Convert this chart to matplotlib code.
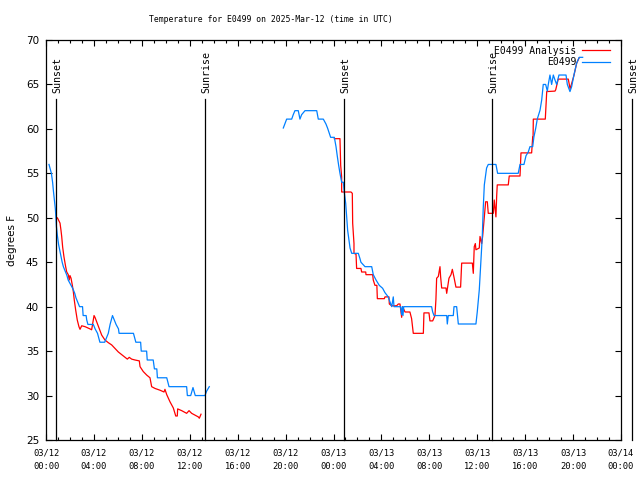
import numpy as np
import matplotlib
matplotlib.use("Agg")
import matplotlib.pyplot as plt

nan = float("nan")

# hours since 03/12 00:00 UTC
analysis_hours = [0.89, 0.95, 1.17, 1.25, 1.31, 1.39, 1.50, 1.64, 1.73, 1.86, 1.94, 2.00, 2.09, 2.20, 2.28,
                  2.36, 2.48, 2.61, 2.75, 2.84, 2.98, 3.26, 3.67, 3.81, 3.90, 4.01, 4.09, 4.23, 4.42, 4.65,
                  4.92, 5.20, 5.48, 5.76, 6.04, 6.32, 6.59, 6.79, 6.95, 7.15, 7.43, 7.79, 7.85, 8.12, 8.41,
                  8.68, 8.82, 9.10, 9.52, 9.85, 9.93, 10.08, 10.35, 10.63, 10.83, 10.96, 10.99, 11.33, 11.74,
                  11.94, 12.16, 12.44, 12.71, 12.80, 12.94,
                  nan,
                  24.07, 24.54, 24.60, 24.68, 24.68, 25.46, 25.57, 25.60, 25.71, 25.71, 25.88, 25.93, 26.29,
                  26.35, 26.69, 26.71, 27.27, 27.32, 27.46, 27.62, 27.66, 28.24, 28.30, 28.63, 28.66, 28.86,
                  29.27, 29.41, 29.55, 29.69, 29.77, 29.97, 30.38, 30.52, 30.58, 30.66, 31.50, 31.55, 31.97,
                  32.05, 32.28, 32.47, 32.55, 32.61, 32.75, 32.89, 32.94, 33.03, 33.39, 33.45, 33.64, 33.81,
                  33.92, 34.06, 34.22, 34.61, 34.70, 35.59, 35.67, 35.75, 35.84, 35.89, 36.17, 36.23, 36.37,
                  36.45, 36.59, 36.70, 36.84, 36.92, 37.34, 37.42, 37.56, 37.62, 37.67, 38.59, 38.67, 39.57,
                  39.65, 40.54, 40.63, 40.66, 40.68, 41.68, 41.80, 42.49, 42.55, 42.76, 43.60, 43.75, 44.07,
                  44.30, 44.51]
analysis_temps = [50.0, 50.0, 49.4, 48.6, 47.9, 46.7, 45.6, 44.5, 43.9, 43.6, 43.0, 43.5, 43.2, 42.4, 41.7,
                  40.75, 39.6, 38.5, 37.75, 37.45, 37.85, 37.75, 37.5, 37.4, 38.1, 39.0, 38.8, 38.3, 37.6, 36.8,
                  36.25, 35.95, 35.7, 35.3, 34.9, 34.6, 34.3, 34.1, 34.3, 34.1, 34.0, 33.9, 33.25, 32.7, 32.3,
                  32.0, 31.0, 30.8, 30.6, 30.4, 30.7, 30.1, 29.3, 28.6, 27.7, 27.7, 28.5, 28.3, 28.0,
                  28.3, 28.0, 27.8, 27.6, 27.45, 27.9,
                  nan,
                  58.9, 58.9, 55.9, 54.6, 52.9, 52.9, 52.75, 49.4, 47.1, 46.0, 45.9, 44.3, 44.3,
                  43.9, 43.9, 43.6, 43.6, 43.0, 42.4, 42.4, 40.9, 40.9, 41.1, 41.1, 40.3, 40.1,
                  40.1, 40.3, 40.3, 38.8, 40.0, 39.4, 39.4, 38.65, 37.9, 37.0, 37.0, 39.3, 39.3,
                  38.4, 38.4, 39.0, 40.8, 43.2, 43.4, 44.5, 43.4, 42.1, 42.1, 41.5, 43.2, 43.6,
                  44.2, 43.3, 42.2, 42.2, 44.9, 44.9, 43.75, 46.75, 47.1, 46.4, 46.6, 47.9, 47.1,
                  47.9, 50.1, 51.8, 51.8, 50.5, 50.5, 52.0, 50.1, 52.4, 53.7, 53.7, 54.7, 54.7,
                  57.3, 57.3, 59.1, 59.1, 61.1, 61.1, 64.2, 64.25, 64.4, 65.6, 65.6, 64.5, 66.0,
                  67.4, 68.0]

obs_hours = [0.25, 0.35, 0.45, 0.55, 0.62, 0.70, 0.78, 0.83, 0.87, 0.95, 1.05, 1.20, 1.35, 1.45, 1.60,
             1.75, 1.85, 2.05, 2.25, 2.40, 2.50, 2.65, 2.80, 3.05, 3.10, 3.35, 3.40, 3.50, 3.95, 4.10,
             4.30, 4.50, 4.90, 5.20, 5.35, 5.55, 5.70, 5.85, 6.05, 6.10, 7.30, 7.50, 7.90, 7.95, 8.40,
             8.45, 8.95, 9.05, 9.25, 9.30, 10.08, 10.27, 11.74, 11.80, 12.08, 12.27, 12.46, 13.27, 13.41,
             13.63,
             nan,
             19.81, 19.95, 20.09, 20.51, 20.64, 20.78, 21.06, 21.20, 21.34, 21.62, 22.60, 22.73, 23.15,
             23.37, 23.51, 23.65, 23.76, 24.07, 24.21, 24.32, 24.43, 24.54, 24.68, 24.82, 24.90, 25.02,
             25.10, 25.18, 25.29, 25.38, 25.52, 26.07, 26.21, 26.29, 26.63, 27.19, 27.32, 27.55, 27.82,
             28.10, 28.30, 28.57, 28.71, 28.86, 28.99, 29.05, 29.60, 29.69, 29.75, 29.80, 29.86, 32.19,
             32.28, 32.39, 33.45, 33.50, 33.58, 34.00, 34.06, 34.28, 34.42, 35.89, 36.00, 36.17, 36.28,
             36.42, 36.50, 36.59, 36.78, 36.92, 37.56, 37.70, 39.42, 39.57, 39.90, 40.07, 40.26, 40.40,
             40.63, 40.73, 40.88, 41.01, 41.24, 41.38, 41.51, 41.71, 41.85, 41.93, 42.07, 42.21, 42.35,
             42.49, 42.63, 42.82, 43.41, 43.52, 43.74, 43.88, 44.07, 44.30, 44.51, 44.80]
obs_temps = [56, 55.5, 55, 54, 53, 52, 51, 50, 49, 48, 47, 46, 45, 44.5, 44,
             43.5, 43, 42.5, 42, 41.5, 41, 40.5, 40, 40, 39, 39, 38.5, 38, 38, 37.5,
             37, 36, 36, 37, 38, 39, 38.5, 38, 37.5, 37, 37, 36, 36, 35, 35,
             34, 34, 33, 33, 32, 32, 31, 31, 30, 30, 30.9, 30, 30, 30.5,
             31,
             nan,
             60.1, 60.6, 61.1, 61.1, 61.6, 62.05, 62.05, 61.1, 61.6, 62.05, 62.05, 61.1, 61.1,
             60.55, 60.07, 59.5, 59.05, 59.05, 58.0, 56.9, 55.9, 55.0, 54.0, 54.0, 52.9, 51.6,
             50.1, 48.6, 47.5, 46.6, 46.0, 46.0, 45.4, 45.0, 44.5, 44.5, 43.6, 43.0, 42.4,
             42.07, 41.57, 41.1, 40.55, 40.0, 41.1, 40.0, 40.0, 39.1, 40.0, 39.0, 40.0, 40.0,
             39.4, 39.0, 39.0, 38.05, 39.0, 39.0, 40.0, 40.0, 38.05, 38.05, 39.4, 41.9, 44.5,
             47.9, 51.1, 53.7, 55.6, 56.0, 56.0, 55.0, 55.0, 56.0, 56.0, 56.98, 57.4, 58.0,
             58.0, 59.1, 60.07, 61.1, 62.1, 63.25, 65.0, 65.0, 64.25, 65.0, 66.06, 65.0, 66.06,
             65.5, 65.0, 66.06, 66.06, 65.0, 64.2, 64.75, 66.06, 67.4, 68.05, 68.05]

sun_hours = [0.86, 13.27, 24.88, 37.25, 48.9]
sun_labels = ["Sunset", "Sunrise", "Sunset", "Sunrise", "Sunset"]

tick_hours = list(range(0, 49, 4))
tick_labels = ["03/12\n00:00", "03/12\n04:00", "03/12\n08:00", "03/12\n12:00", "03/12\n16:00",
               "03/12\n20:00", "03/13\n00:00", "03/13\n04:00", "03/13\n08:00", "03/13\n12:00",
               "03/13\n16:00", "03/13\n20:00", "03/14\n00:00"]

mono = "DejaVu Sans Mono"

fig = plt.figure(figsize=(6.4, 4.8), dpi=100)
ax = fig.add_axes([46 / 640, 40 / 480, 575 / 640, 400 / 480])

ax.plot(analysis_hours, analysis_temps, color="#ff0000", lw=0.9, label="E0499 Analysis")
ax.plot(obs_hours, obs_temps, color="#0080ff", lw=0.9, label="E0499")

for h, lab in zip(sun_hours, sun_labels):
    ax.plot([h, h], [0, 0.8525], color="black", lw=0.9,
            transform=ax.get_xaxis_transform(), clip_on=False)
    ax.text(h + 0.1, 0.8675, lab, rotation=90, ha="center", va="bottom",
            fontsize=7.2, family=mono, transform=ax.get_xaxis_transform())

ax.set_xlim(0, 48)
ax.set_ylim(25, 70)
ax.set_xticks(tick_hours)
ax.set_xticklabels(tick_labels, fontsize=6.3, family=mono, linespacing=1.6)
ax.set_xticks(range(0, 49), minor=True)
ax.set_yticks(range(25, 71, 5))
for t in ax.get_yticklabels():
    t.set_fontsize(7.5)
ax.tick_params(which="both", direction="in", top=True, right=True, width=0.8)
ax.tick_params(which="major", length=4)
ax.tick_params(which="minor", length=2.2)
ax.tick_params(axis="x", pad=6)
ax.tick_params(axis="y", pad=5)
for s in ax.spines.values():
    s.set_linewidth(0.9)

ax.set_ylabel("degrees F", fontsize=7.5, labelpad=6)
fig.text(271 / 640, 1 - 20 / 480, "Temperature for E0499 on 2025-Mar-12 (time in UTC)",
         fontsize=5.9, family=mono, ha="center", va="center")

ax.legend(loc="upper right", bbox_to_anchor=(0.988, 0.995), frameon=False, markerfirst=False,
          prop={"family": mono, "size": 7}, handlelength=2.9, handletextpad=0.6,
          labelspacing=0.15, borderaxespad=0)

plt.savefig("out.png", dpi=100)
